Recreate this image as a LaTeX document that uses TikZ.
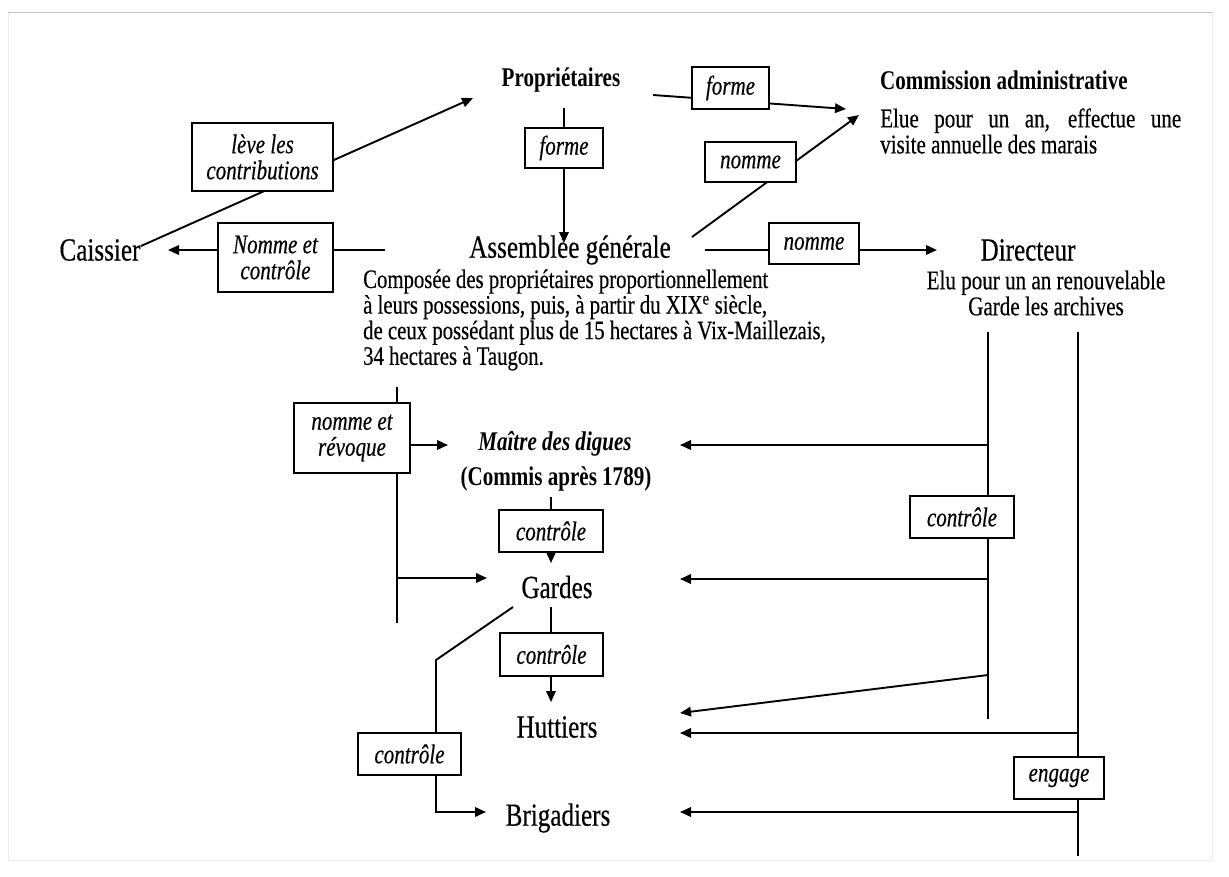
\documentclass[tikz,border=0pt]{standalone}
\usepackage{fontspec}
\setmainfont{Liberation Serif}[FakeStretch=0.78,
  UprightFeatures={FakeBold=0.4},ItalicFeatures={FakeBold=0.4}]
\usetikzlibrary{arrows.meta,backgrounds}
\begin{document}
\begin{tikzpicture}[x=1pt,y=-1pt,
  lbl/.style={inner sep=0pt},
  big/.style={lbl,font=\fontsize{32.2}{34}\selectfont},
  sml/.style={lbl,font=\fontsize{27}{26}\selectfont},
  smlb/.style={lbl,font=\fontsize{27}{26}\selectfont\bfseries},
  smlbi/.style={lbl,font=\fontsize{27}{26}\selectfont\bfseries\itshape},
  box/.style={draw,line width=1.8pt,fill=white,inner sep=0pt,align=center,
    font=\fontsize{27}{26}\selectfont\itshape},
  ln/.style={line width=1.9pt},
  arr/.style={ln,-{Triangle[length=11pt,width=9.5pt]}},
]
\useasboundingbox (0,0) rectangle (1229,876);

% ---- text nodes
\node[smlb] (prop) at (561,80) {Propriétaires};
\node[smlb,anchor=west] (comm) at (880,80) {Commission administrative};
\node[sml,anchor=west,align=left] (commdesc) at (880,131)
  {\makebox[301pt][s]{Elue pour un an, effectue une}\\visite annuelle des marais};
\node[big] (cais) at (100,250) {Caissier};
\node[big] (ag) at (570,250) {Assemblée générale};
\node[big] (dir) at (1028,250) {Directeur};
\node[lbl,anchor=west,align=left,font=\fontsize{26.6}{25.6}\selectfont] (agdesc) at (363,320)
  {Composée des propriétaires proportionnellement\\
   à leurs possessions, puis, à partir du XIX\textsuperscript{e} siècle,\\
   de ceux possédant plus de 15 hectares à Vix-Maillezais,\\
   34 hectares à Taugon.};
\node[sml,align=center] (dirdesc) at (1046,293) {Elu pour un an renouvelable\\Garde les archives};
\node[smlbi] (maitre) at (555,444) {Maître des digues};
\node[smlb] (commis) at (556,479) {(Commis après 1789)};
\node[big] (gardes) at (557,587) {Gardes};
\node[big] (hutt) at (557,727) {Huttiers};
\node[big] (brig) at (558,818) {Brigadiers};

% ---- label boxes
\node[box,minimum width=77pt,minimum height=42pt] (bforme1) at (730.5,88) {forme};
\node[box,minimum width=78pt,minimum height=40pt] (bforme2) at (564,148) {forme};
\node[box,minimum width=91pt,minimum height=40pt] (bnomme1) at (750.5,162) {nomme};
\node[box,minimum width=90pt,minimum height=41pt] (bnomme2) at (814,243.5) {nomme};
\node[box,minimum width=141pt,minimum height=68pt] (bleve) at (262.5,157) {lève les\\contributions};
\node[box,minimum width=115pt,minimum height=69pt] (bnomctl) at (275.5,257.5) {Nomme et\\contrôle};
\node[box,minimum width=116pt,minimum height=70pt] (bnr) at (352,438) {nomme et\\révoque};
\node[box,minimum width=104pt,minimum height=42pt] (bc1) at (551,531) {contrôle};
\node[box,minimum width=104pt,minimum height=42pt] (bcr) at (962,517) {contrôle};
\node[box,minimum width=103pt,minimum height=43pt] (bc2) at (551.5,654.5) {contrôle};
\node[box,minimum width=103pt,minimum height=42pt] (bc3) at (409.5,754) {contrôle};
\node[box,minimum width=90pt,minimum height=42pt] (bengage) at (1059,778) {engage};

% ---- connector end points
\coordinate (caisUp) at (141,246);
\coordinate (propIn) at (473,98);
\coordinate (agLeft) at (385,250);
\coordinate (caisIn) at (168,250);
\coordinate (propRight) at (653,95);
\coordinate (commIn1) at (846,109);
\coordinate (agUpRight) at (692,237);
\coordinate (commIn2) at (859,115);
\coordinate (propDown) at (564,108);
\coordinate (agTop) at (564,243);
\coordinate (agRight) at (705,250);
\coordinate (dirIn) at (937,250);
\coordinate (lvTop) at (397,387);
\coordinate (lvBot) at (397,623);
\coordinate (maitreInL) at (448,445);
\coordinate (gardesInL) at (487,578);
\coordinate (commisDown) at (551,497);
\coordinate (gardesTop) at (551,563);
\coordinate (gardesDown) at (551,607);
\coordinate (huttTop) at (551,702);
\coordinate (gardesLeft) at (513,607);
\coordinate (brigBend) at (436,660);
\coordinate (brigCorner) at (436,812);
\coordinate (brigIn) at (486,812);
\coordinate (dlTop) at (988,332);
\coordinate (dlBot) at (988,719);
\coordinate (dlDiag) at (988,675);
\coordinate (drTop) at (1078,332);
\coordinate (drBot) at (1078,856);
\coordinate (maitreInR) at (680,445);
\coordinate (gardesInR) at (680,579);
\coordinate (huttInR1) at (680,713);
\coordinate (huttInR2) at (680,733);
\coordinate (brigInR) at (680,812);

\begin{scope}[on background layer]
  \fill[white] (0,0) rectangle (1229,876);
  \draw[gray!45,line width=1pt] (8,12.5) -- (1213,12.5);
  \draw[gray!15,line width=1pt] (8,12.5) -- (8,860) -- (1212,860) -- (1212,12.5);

  \draw[arr] (caisUp) -- (propIn);
  \draw[arr] (agLeft) -- (caisIn);
  \draw[arr] (propRight) -- (commIn1);
  \draw[arr] (agUpRight) -- (commIn2);
  \draw[arr] (propDown) -- (agTop);
  \draw[arr] (agRight) -- (dirIn);

  \draw[ln] (lvTop) -- (lvBot);
  \draw[arr] (lvTop |- maitreInL) -- (maitreInL);
  \draw[arr] (lvTop |- gardesInL) -- (gardesInL);
  \draw[arr] (commisDown) -- (gardesTop);
  \draw[arr] (gardesDown) -- (huttTop);
  \draw[arr] (gardesLeft) -- (brigBend) -- (brigCorner) -- (brigIn);

  \draw[ln] (dlTop) -- (dlBot);
  \draw[ln] (drTop) -- (drBot);
  \draw[arr] (dlTop |- maitreInR) -- (maitreInR);
  \draw[arr] (dlTop |- gardesInR) -- (gardesInR);
  \draw[arr] (dlDiag) -- (huttInR1);
  \draw[arr] (drTop |- huttInR2) -- (huttInR2);
  \draw[arr] (drTop |- brigInR) -- (brigInR);
\end{scope}
\end{tikzpicture}
\end{document}
